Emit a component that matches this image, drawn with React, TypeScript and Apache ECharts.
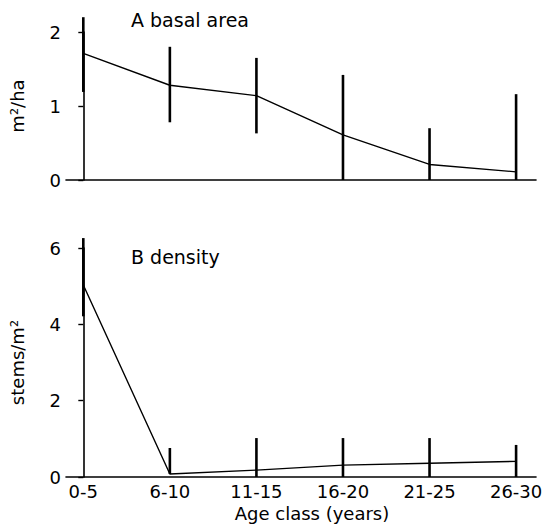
import React, { useEffect, useRef } from "react";
import * as echarts from "echarts";

const categories = ["0-5", "6-10", "11-15", "16-20", "21-25", "26-30"];
const basalArea = [1.71, 1.28, 1.14, 0.61, 0.21, 0.11];
const basalLow = [1.19, 0.78, 0.63, 0, 0, 0];
const basalHigh = [2.2, 1.8, 1.65, 1.42, 0.7, 1.16];
const density = [5.03, 0.08, 0.18, 0.31, 0.36, 0.41];
const densityLow = [4.21, 0.08, 0, 0, 0, 0];
const densityHigh = [6.26, 0.76, 1.02, 1.02, 1.02, 0.84];
const topTicks = [0, 1, 2];
const bottomTicks = [0, 2, 4, 6];

const FONT = "DejaVu Sans";
const FS = 18;

function errorRender(params: any, api: any) {
  const x = api.value(0);
  const p1 = api.coord([x, api.value(1)]);
  const p2 = api.coord([x, api.value(2)]);
  return {
    type: "line",
    shape: { x1: p1[0], y1: p1[1], x2: p2[0], y2: p2[1] },
    style: { stroke: "#000", lineWidth: 2.6 },
  };
}

export default function App() {
  const ref = useRef<HTMLDivElement>(null);
  useEffect(() => {
    if (!ref.current) return;
    const chart = echarts.init(ref.current, null, { renderer: "svg" });
    const xIdx = categories.map((_, i) => i);
    const axisLine = { show: true, lineStyle: { color: "#000", width: 1.6 } };
    const yLabel = { color: "#000", fontSize: FS, fontFamily: FONT, margin: 5 };
    chart.setOption({
      animation: false,
      backgroundColor: "#fff",
      title: [
        {
          text: "A basal area",
          left: 126,
          top: 5,
          textStyle: { fontFamily: FONT, fontSize: 19, fontWeight: "normal", color: "#000" },
        },
        {
          text: "B density",
          left: 126,
          top: 242,
          textStyle: { fontFamily: FONT, fontSize: 19, fontWeight: "normal", color: "#000" },
        },
      ],
      grid: [
        { left: 62, right: 11, top: 32, height: 148 },
        { left: 62, right: 11, top: 248, height: 229 },
      ],
      xAxis: [
        {
          type: "value",
          gridIndex: 0,
          min: -0.2,
          max: 5.23,
          axisLine,
          axisTick: { show: false },
          axisLabel: { show: false },
          splitLine: { show: false },
        },
        {
          type: "value",
          gridIndex: 1,
          min: -0.2,
          max: 5.23,
          axisLine,
          axisTick: { show: false },
          splitLine: { show: false },
          axisLabel: {
            customValues: xIdx,
            formatter: (v: number) => categories[Math.round(v)] ?? "",
            color: "#000",
            fontSize: FS,
            fontFamily: FONT,
            margin: 5,
          },
          name: "Age class (years)",
          nameLocation: "middle",
          nameGap: 27,
          nameTextStyle: { color: "#000", fontSize: FS, fontFamily: FONT, padding: [0, 0, 0, 22] },
        },
      ],
      yAxis: [
        {
          type: "value",
          gridIndex: 0,
          min: 0,
          max: 2,
          interval: 1,
          axisLine,
          axisTick: { show: true, length: 5, lineStyle: { color: "#000", width: 1.4 }, customValues: topTicks },
          axisLabel: { ...yLabel, customValues: topTicks },
          splitLine: { show: false },
          name: "m²/ha",
          nameLocation: "middle",
          nameRotate: 90,
          nameGap: 40,
          nameTextStyle: { color: "#000", fontSize: FS, fontFamily: FONT },
        },
        {
          type: "value",
          gridIndex: 1,
          min: 0,
          max: 6,
          interval: 2,
          axisLine,
          axisTick: { show: true, length: 5, lineStyle: { color: "#000", width: 1.4 }, customValues: bottomTicks },
          axisLabel: { ...yLabel, customValues: bottomTicks },
          splitLine: { show: false },
          name: "stems/m²",
          nameLocation: "middle",
          nameRotate: 90,
          nameGap: 40,
          nameTextStyle: { color: "#000", fontSize: FS, fontFamily: FONT },
        },
      ],
      series: [
        {
          type: "line",
          xAxisIndex: 0,
          yAxisIndex: 0,
          data: basalArea.map((v, i) => [i, v]),
          symbol: "none",
          lineStyle: { color: "#000", width: 1.4 },
        },
        {
          type: "custom",
          xAxisIndex: 0,
          yAxisIndex: 0,
          data: basalArea.map((_, i) => [i, basalLow[i], basalHigh[i]]),
          renderItem: errorRender,
          clip: false,
        },
        {
          type: "line",
          xAxisIndex: 1,
          yAxisIndex: 1,
          data: density.map((v, i) => [i, v]),
          symbol: "none",
          lineStyle: { color: "#000", width: 1.4 },
        },
        {
          type: "custom",
          xAxisIndex: 1,
          yAxisIndex: 1,
          data: density.map((_, i) => [i, densityLow[i], densityHigh[i]]),
          renderItem: errorRender,
          clip: false,
        },
      ],
    });
    return () => chart.dispose();
  }, []);
  return (
    <div
      ref={ref}
      style={{ position: "absolute", left: 0, top: 0, width: 547, height: 528 }}
    />
  );
}
